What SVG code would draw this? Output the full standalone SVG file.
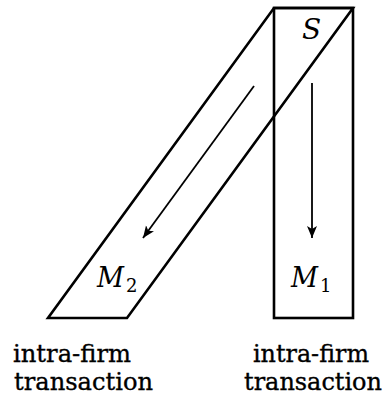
<svg xmlns="http://www.w3.org/2000/svg" width="387" height="416" viewBox="0 0 387 416">
<style>
.shape{fill:none;stroke:#000;stroke-width:2.6;stroke-linejoin:miter}
.arr{fill:none;stroke:#000;stroke-width:1.8}
text{font-family:'DejaVu Serif',serif;fill:#000}
.math{font-style:italic;font-size:28px}
.sub{font-size:18px}
.lbl{font-size:24px;stroke:#000;stroke-width:0.35}
</style>
<defs>
<marker id="ah" markerUnits="userSpaceOnUse" markerWidth="14" markerHeight="12" refX="12" refY="5" orient="auto">
<path d="M0,0 L12,5 L0,10 L3,5 Z" fill="#000"/>
</marker>
</defs>
<g id="M2">
<polygon class="shape" points="274,8 353,8 127,318 48,318"/>
<text class="math" x="97" y="287" textLength="27" lengthAdjust="spacingAndGlyphs">M</text><text class="sub" x="126" y="292">2</text>
</g>
<g id="M1">
<rect class="shape" x="274" y="8" width="79" height="310"/>
<text class="math" x="291" y="287" textLength="27" lengthAdjust="spacingAndGlyphs">M</text><text class="sub" x="320" y="292">1</text>
</g>
<g id="S">
<text class="math" x="302" y="39">S</text>
</g>
<g id="connectors">
<line class="arr" x1="254" y1="86" x2="143" y2="238" marker-end="url(#ah)"/>
<line class="arr" x1="312" y1="83" x2="312" y2="238" marker-end="url(#ah)"/>
</g>
<g id="labels">
<text class="lbl" x="13" y="362" textLength="118" lengthAdjust="spacingAndGlyphs">intra-firm</text>
<text class="lbl" x="14" y="390" textLength="139" lengthAdjust="spacingAndGlyphs">transaction</text>
<text class="lbl" x="253" y="362" textLength="116" lengthAdjust="spacingAndGlyphs">intra-firm</text>
<text class="lbl" x="244" y="390" textLength="138" lengthAdjust="spacingAndGlyphs">transaction</text>
</g>
</svg>
